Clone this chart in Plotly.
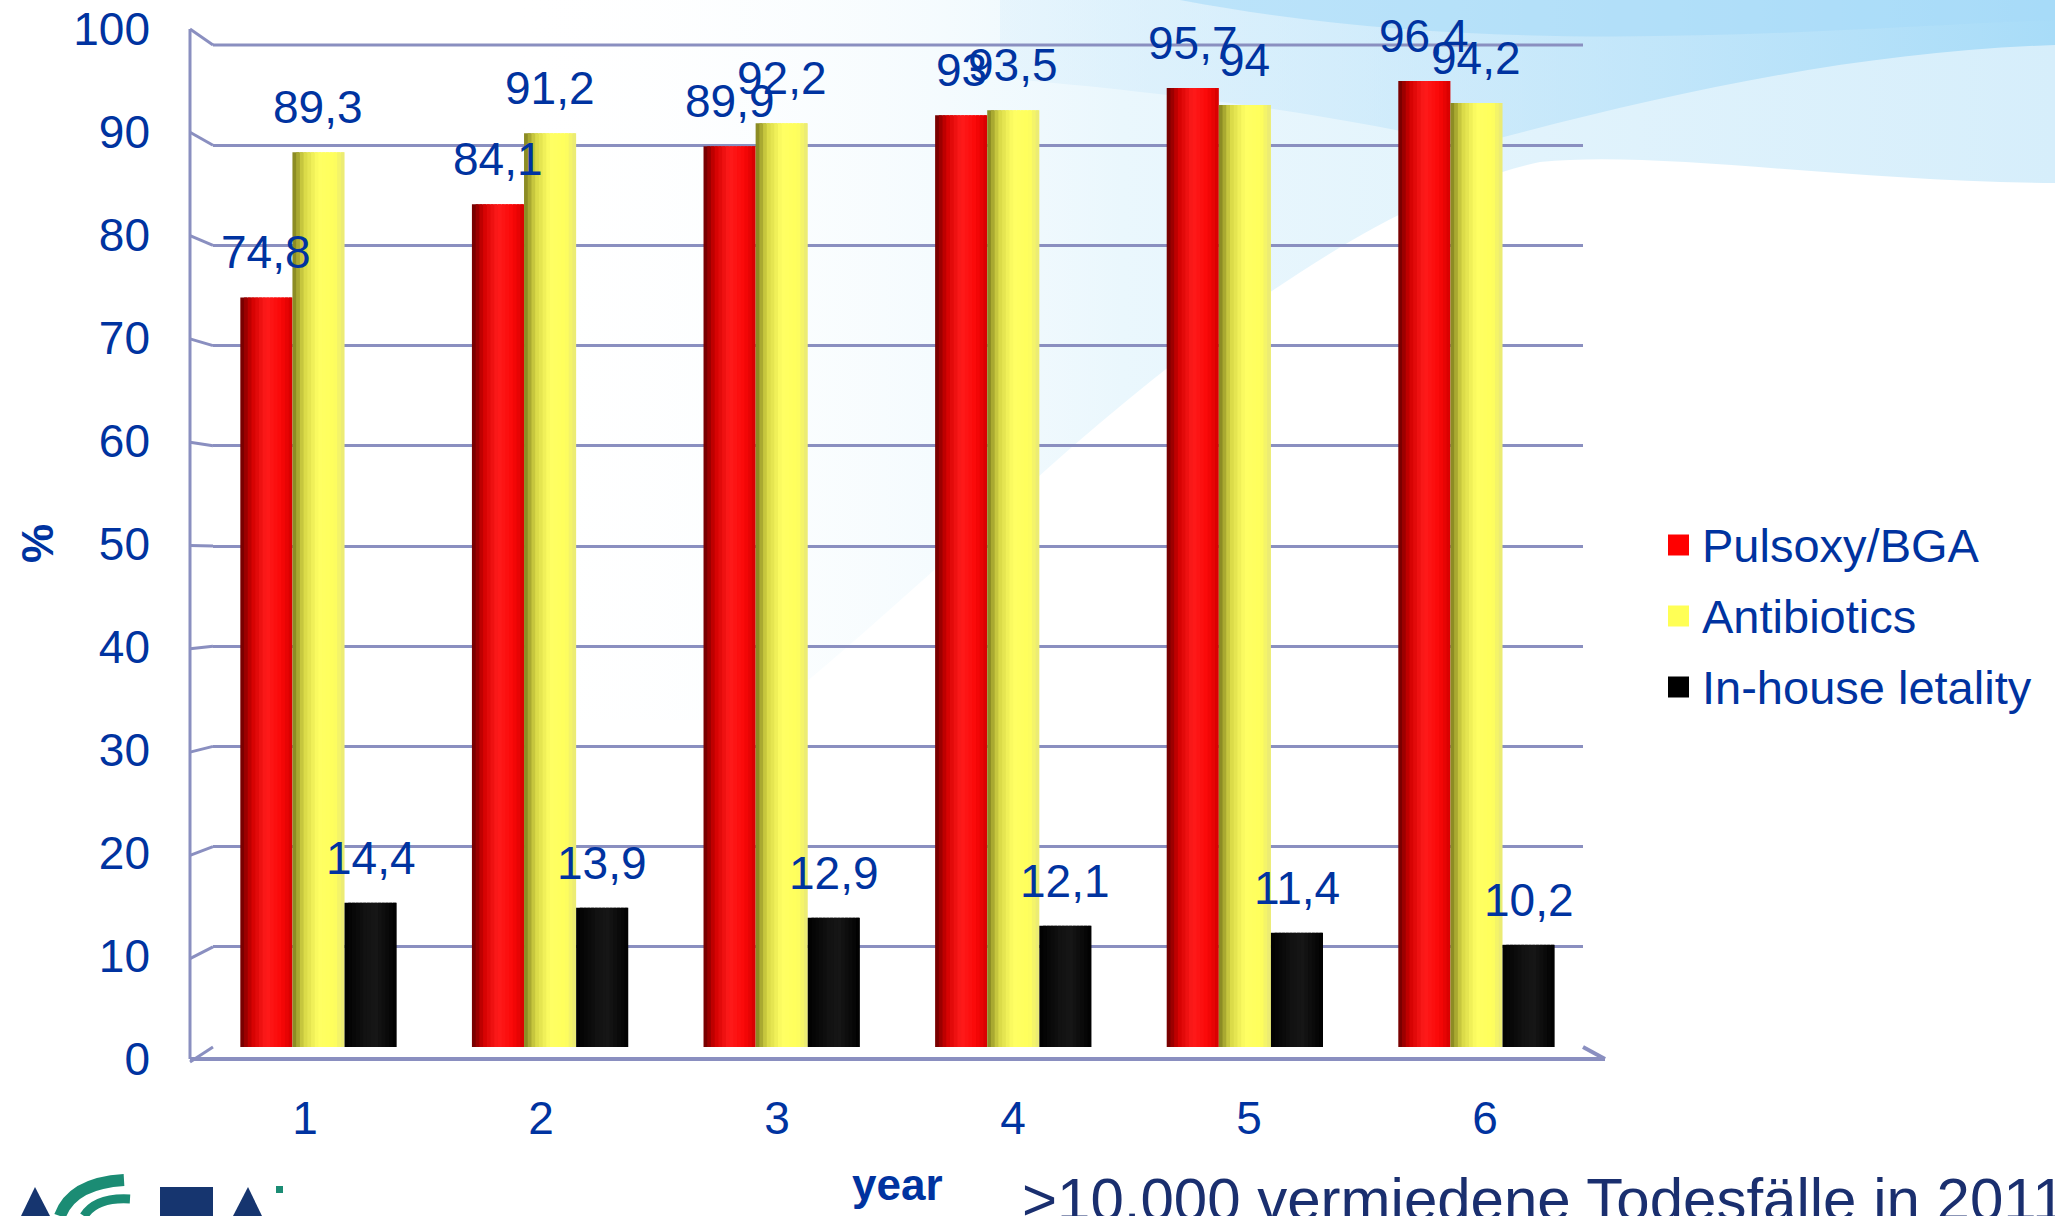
import base64
import plotly.graph_objects as go

# ---------------- data ----------------
years = [1, 2, 3, 4, 5, 6]
year_labels = ["1", "2", "3", "4", "5", "6"]
pulsoxy = [74.8, 84.1, 89.9, 93.0, 95.7, 96.4]
antibiotics = [89.3, 91.2, 92.2, 93.5, 94.0, 94.2]
letality = [14.4, 13.9, 12.9, 12.1, 11.4, 10.2]
series_names = ["Pulsoxy/BGA", "Antibiotics", "In-house letality"]
y_ticks = [0, 10, 20, 30, 40, 50, 60, 70, 80, 90, 100]
y_tick_labels = [str(v) for v in y_ticks]
y_title = "%"
x_title = "year"
footer_text = ">10.000 vermiedene Todesfälle in 2011"

series_values = [pulsoxy, antibiotics, letality]

# ---------------- styling / geometry ----------------
W, H = 2055, 1216
FONT = "Liberation Sans, Arial, sans-serif"
NAVY = "#0033a0"
GRID = "#8a8fc0"
PX0, PX1 = 213, 1583          # plot area left/right (px)
PY0, PY1 = 45, 1047           # plot area top/bottom (px)
XR = [0.5445, 6.46]
YR = [0, 100]
BAR_W = 0.225
N_STRIPS = 14

legend_square = ["#ff0000", "#ffff55", "#000000"]
shade_stops = [
    [(0, (105, 0, 0)), (0.22, (210, 0, 0)), (0.5, (255, 28, 28)), (0.78, (250, 8, 8)), (1, (212, 0, 0))],
    [(0, (125, 125, 30)), (0.22, (215, 215, 70)), (0.5, (255, 255, 100)), (0.8, (255, 255, 92)), (1, (232, 232, 120))],
    [(0, (0, 0, 0)), (0.4, (18, 18, 18)), (0.6, (22, 22, 22)), (1, (0, 0, 0))],
]


def interp(stops, t):
    for (t0, c0), (t1, c1) in zip(stops[:-1], stops[1:]):
        if t0 <= t <= t1:
            f = (t - t0) / (t1 - t0)
            return "rgb(%d,%d,%d)" % tuple(round(a + (b - a) * f) for a, b in zip(c0, c1))
    return "rgb(%d,%d,%d)" % stops[-1][1]


def fmt(v):
    s = f"{v:.1f}".replace(".", ",")
    return s[:-2] if s.endswith(",0") else s


def pxx(x):
    return x / W


def pyy(y):
    return 1 - y / H


def ypx(v):  # value on main y axis -> pixel
    return PY1 - (v - YR[0]) / (YR[1] - YR[0]) * (PY1 - PY0)


fig = go.Figure()

# bars drawn as shaded cylinders (vertical strips of the same bar)
strip = BAR_W / N_STRIPS
for k, vals in enumerate(series_values):
    for j in range(N_STRIPS):
        t = (j + 0.5) / N_STRIPS
        w = min(strip * 1.8, BAR_W - j * strip)
        fig.add_trace(go.Bar(
            x=years, y=vals,
            offset=-1.5 * BAR_W + k * BAR_W + j * strip,
            width=w,
            marker=dict(color=interp(shade_stops[k], t), line=dict(width=0)),
            name=series_names[k], showlegend=False, hoverinfo="skip",
        ))

# empty traces to activate the (front-plane) label axes
fig.add_trace(go.Scatter(x=[], y=[], xaxis="x", yaxis="y2", showlegend=False))
fig.add_trace(go.Scatter(x=[], y=[], xaxis="x2", yaxis="y", showlegend=False))

annotations = []
# data labels
for k, vals in enumerate(series_values):
    for x, v in zip(years, vals):
        annotations.append(dict(
            x=x - BAR_W + k * BAR_W, y=v, xref="x", yref="y", text=fmt(v),
            showarrow=False, yshift=45, yanchor="middle", xanchor="center",
            font=dict(family=FONT, size=46, color=NAVY),
        ))

# manual legend
leg_y = [545, 616, 687]
shapes = []
for k, name in enumerate(series_names):
    annotations.append(dict(
        x=pxx(1700), y=pyy(leg_y[k]), xref="paper", yref="paper", text=name,
        showarrow=False, xanchor="left", yanchor="middle",
        font=dict(family=FONT, size=47, color=NAVY),
    ))
    shapes.append(dict(
        type="rect", xref="paper", yref="paper",
        x0=pxx(1668), x1=pxx(1689), y0=pyy(leg_y[k] - 10.5), y1=pyy(leg_y[k] + 10.5),
        fillcolor=legend_square[k], line=dict(width=0),
    ))

annotations += [
    dict(x=pxx(37), y=pyy(544), xref="paper", yref="paper", text="<b>%s</b>" % y_title,
         textangle=-90, xanchor="center", yanchor="middle", showarrow=False,
         font=dict(family=FONT, size=44, color=NAVY)),
    dict(x=pxx(897), y=pyy(1184), xref="paper", yref="paper", text="<b>%s</b>" % x_title,
         xanchor="center", yanchor="middle", showarrow=False,
         font=dict(family=FONT, size=44, color=NAVY)),
    dict(x=pxx(1020), y=pyy(1199), xref="paper", yref="paper", text=footer_text,
         xanchor="left", yanchor="middle", showarrow=False,
         font=dict(family=FONT, size=60, color="#1a2f6f")),
]

# 3D-looking wall / floor edges
for v in y_ticks:
    yb = ypx(v)
    dy = 15 - 0.31 * v
    shapes.append(dict(type="line", xref="paper", yref="paper",
                       x0=pxx(190), y0=pyy(yb + dy), x1=pxx(PX0), y1=pyy(yb),
                       line=dict(color=GRID, width=3)))
shapes += [
    dict(type="line", xref="paper", yref="paper", x0=pxx(PX0), y0=pyy(ypx(100)),
         x1=pxx(PX1), y1=pyy(ypx(100)), line=dict(color=GRID, width=3), layer="below"),
    dict(type="line", xref="paper", yref="paper", x0=pxx(190), y0=pyy(ypx(100) - 16),
         x1=pxx(190), y1=pyy(1059), line=dict(color=GRID, width=3)),
    dict(type="line", xref="paper", yref="paper", x0=pxx(190), y0=pyy(1059),
         x1=pxx(1605), y1=pyy(1059), line=dict(color=GRID, width=4)),
    dict(type="line", xref="paper", yref="paper", x0=pxx(PX1), y0=pyy(PY1),
         x1=pxx(1605), y1=pyy(1059), line=dict(color=GRID, width=4)),
]

# background waves + logo as an svg image
svg = f"""<svg xmlns='http://www.w3.org/2000/svg' width='{W}' height='{H}' viewBox='0 0 {W} {H}'>
<defs>
<linearGradient id='g1' gradientUnits='userSpaceOnUse' x1='500' y1='0' x2='2055' y2='0'>
<stop offset='0' stop-color='#ffffff' stop-opacity='0'/>
<stop offset='0.4' stop-color='#eaf7fd'/>
<stop offset='1' stop-color='#d6eefb'/>
</linearGradient>
<linearGradient id='g2' gradientUnits='userSpaceOnUse' x1='1000' y1='0' x2='2055' y2='0'>
<stop offset='0' stop-color='#cfeafb' stop-opacity='0.3'/>
<stop offset='1' stop-color='#a8dcf8'/>
</linearGradient>
</defs>
<path d='M 500 0 L 2055 0 L 2055 183 C 1850 182, 1660 150, 1540 162 C 1390 195, 1220 320, 1080 440 C 960 545, 860 640, 760 720 L 500 720 Z' fill='url(#g1)'/>
<path d='M 1000 0 L 2055 0 L 2055 45 C 1850 52, 1660 95, 1470 146 C 1350 118, 1200 95, 1000 78 Z' fill='url(#g2)'/>
<path d='M 1180 0 L 2055 0 L 2055 20 C 1800 30, 1500 60, 1180 0 Z' fill='#a6daf8' fill-opacity='0.6'/>
<polygon points='21,1216 35,1187 50,1216' fill='#16356f'/>
<path d='M 60 1216 Q 72 1183 124 1180' stroke='#1b8c74' stroke-width='12' fill='none'/>
<path d='M 84 1216 Q 96 1197 130 1199' stroke='#1b8c74' stroke-width='9' fill='none'/>
<rect x='160' y='1187' width='53' height='29' fill='#16356f'/>
<polygon points='233,1216 248,1187 262,1216' fill='#16356f'/>
<rect x='276' y='1186' width='7' height='7' fill='#1b8c74'/>
</svg>"""
src = "data:image/svg+xml;base64," + base64.b64encode(svg.encode("utf-8")).decode("ascii")

common = dict(showgrid=False, zeroline=False, showline=False, ticks="",
              fixedrange=True, automargin=False)

fig.update_layout(
    width=W, height=H, autosize=False,
    margin=dict(l=0, r=0, t=0, b=0, pad=0),
    paper_bgcolor="white", plot_bgcolor="rgba(0,0,0,0)",
    barmode="overlay", showlegend=False,
    font=dict(family=FONT, color=NAVY),
    xaxis=dict(domain=[PX0 / W, PX1 / W], range=XR, showticklabels=False, **common),
    yaxis=dict(domain=[1 - PY1 / H, 1 - PY0 / H], range=YR, tickvals=y_ticks,
               showticklabels=False, **{**common, "showgrid": True},
               gridcolor=GRID, gridwidth=3),
    # front-plane tick labels (perspective: slightly more spread than the back wall)
    yaxis2=dict(anchor="x", side="left", domain=[1 - 1059 / H, 1 - 29 / H],
                range=YR, tickvals=y_ticks, ticktext=y_tick_labels,
                tickfont=dict(family=FONT, size=46, color=NAVY),
                ticklabelstandoff=62, **common),
    xaxis2=dict(overlaying="x", anchor="y", side="bottom",
                range=[0.610, 6.415], tickvals=years, ticktext=year_labels,
                tickfont=dict(family=FONT, size=46, color=NAVY),
                ticklabelstandoff=40, **common),
    annotations=annotations,
    shapes=shapes,
    images=[dict(source=src, xref="paper", yref="paper", x=0, y=1, sizex=1, sizey=1,
                 xanchor="left", yanchor="top", sizing="stretch", layer="below")],
)

fig.write_html("out.html")
